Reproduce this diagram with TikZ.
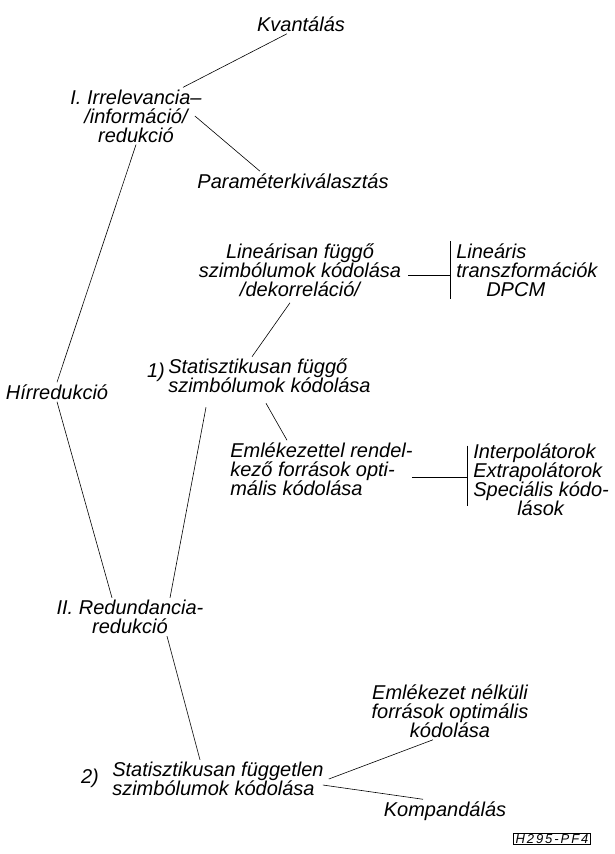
\documentclass[tikz,border=0pt]{standalone}
\usepackage{fontspec}
\setmainfont{Liberation Sans}
\tikzset{txt/.style={font=\itshape\fontsize{20}{19}\selectfont, inner sep=2pt},
  lst/.style={txt, align=left, anchor=west, inner xsep=6pt}}

\begin{document}
\begin{tikzpicture}[x=1pt, y=-1pt, line width=0.6pt]
  \useasboundingbox (0,0) rectangle (614,854);
  % irrelevancia
  \node[txt] (kvant) at (301,24) {Kvantálás};
  \node[txt, align=center] (irrel) at (136,116) {I. Irrelevancia--\\/információ/\\redukció};
  \node[txt] (param) at (293,181) {Paraméterkiválasztás};
  \node[txt] (hir) at (57,392) {Hírredukció};
  % redundancia
  \node[txt, align=center] (linfugg) at (300,270) {Lineárisan függő\\szimbólumok kódolása\\/dekorreláció/};
  \node[lst] (linlist) at (450,270) {Lineáris\\transzformációk\\\hspace*{30pt}DPCM};
  \node[txt] (num1) at (156,372) {1)};
  \node[txt, align=left, anchor=west] (stat1) at (166,376) {Statisztikusan függő\\szimbólumok kódolása};
  \node[txt, align=left, anchor=west] (emlek) at (228,469) {Emlékezettel rendel-\\kező források opti-\\mális kódolása};
  \node[lst] (emlist) at (467,480) {Interpolátorok\\Extrapolátorok\\Speciális kódo-\\\hspace*{44pt}lások};
  \node[txt, align=center] (redund) at (130,617) {II. Redundancia-\\redukció};
  \node[txt] (num2) at (90,778) {2)};
  \node[txt, align=left, anchor=west] (stat2) at (110,779) {Statisztikusan független\\szimbólumok kódolása};
  \node[txt, align=center] (emleknel) at (450,711) {Emlékezet nélküli\\források optimális\\kódolása};
  \node[txt] (kompand) at (445,811) {Kompandálás};
  \node[draw, line width=0.8pt, inner xsep=2pt, inner ysep=1pt,
    font=\itshape\fontsize{13}{13}\selectfont\addfontfeature{LetterSpace=15}] (kod) at (552,839) {H295-PF4};

  \draw ([xshift=-14pt]kvant.south) -- ([xshift=47pt]irrel.north);
  \draw ([xshift=-9pt]irrel.east) -- ([xshift=-33pt]param.north);
  \draw (irrel.south) -- (hir.north);
  \draw (hir.south) -- ([xshift=-18pt]redund.north);
  \draw ([xshift=-10pt,yshift=-4pt]linfugg.south) -- ([xshift=86pt]stat1.north west);
  \draw ([xshift=40pt,yshift=-12pt]stat1.south west) -- ([xshift=40pt]redund.north);
  \draw ([xshift=100pt,yshift=-8pt]stat1.south west) -- ([xshift=59pt]emlek.north west);
  \draw ([xshift=5pt,yshift=-5pt]linfugg.east) -- ([yshift=-5pt]linlist.west);
  \draw (linlist.north west) -- (linlist.south west);
  \draw ([xshift=-3pt,yshift=-8pt]emlek.east) -- ([yshift=3pt]emlist.west);
  \draw ([yshift=-4pt]emlist.north west) -- ([yshift=12pt]emlist.south west);
  \draw ([xshift=37pt]redund.south) -- ([xshift=90pt]stat2.north west);
  \draw ([xshift=3pt]stat2.east) -- ([xshift=-17pt]emleknel.south);
  \draw ([xshift=-3pt,yshift=-6pt]stat2.east) -- ([xshift=-22pt]kompand.north);
\end{tikzpicture}
\end{document}
